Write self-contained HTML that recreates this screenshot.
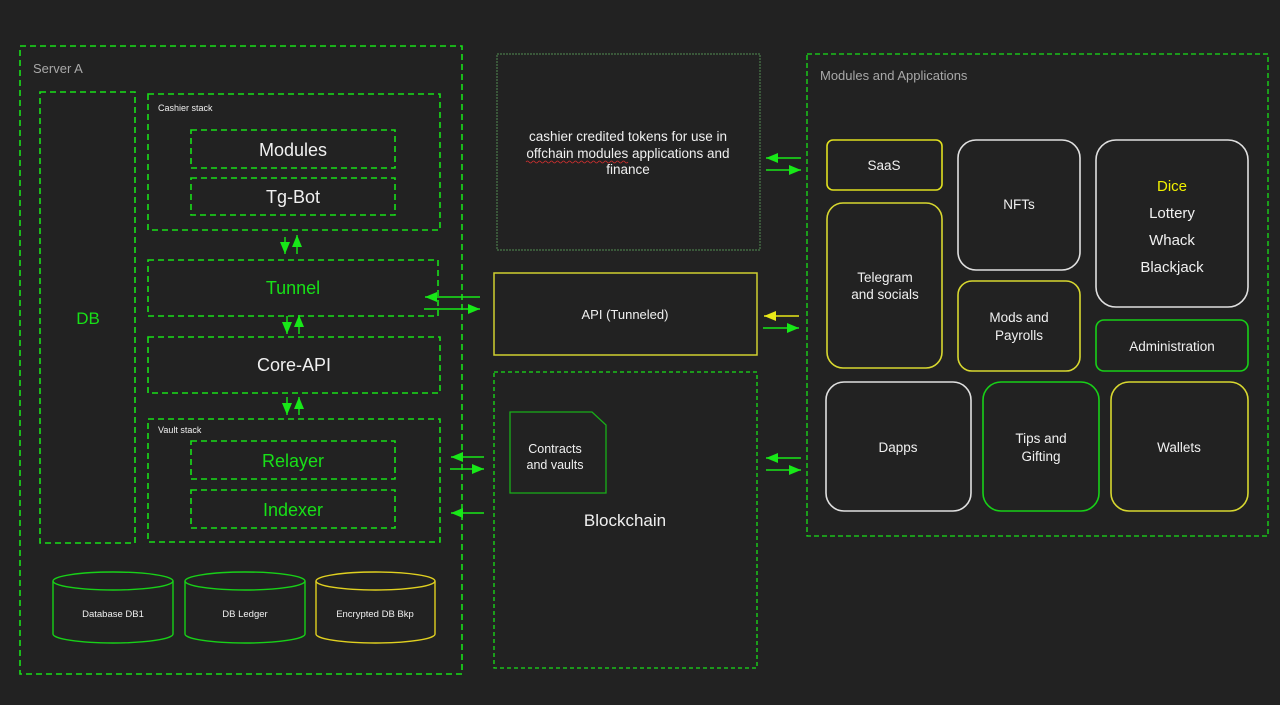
<!DOCTYPE html>
<html><head><meta charset="utf-8"><style>
html,body{margin:0;padding:0;background:#222222;}
svg{display:block;font-family:"Liberation Sans",sans-serif;}
</style></head><body>
<svg width="1280" height="705" viewBox="0 0 1280 705" xmlns="http://www.w3.org/2000/svg">
<defs>
<marker id="ag" viewBox="0 0 12 10" refX="12" refY="5" markerWidth="12" markerHeight="10" orient="auto" markerUnits="userSpaceOnUse"><path d="M0,0 L12,5 L0,10 z" fill="#18e818"/></marker>
<marker id="ay" viewBox="0 0 12 10" refX="12" refY="5" markerWidth="12" markerHeight="10" orient="auto" markerUnits="userSpaceOnUse"><path d="M0,0 L12,5 L0,10 z" fill="#e8e818"/></marker>
</defs>
<rect width="1280" height="705" fill="#222222"/>
<g fill="none" stroke="#18e018" stroke-width="1.6" stroke-dasharray="6,4">
<rect x="20" y="46" width="442" height="628"/>
<rect x="40" y="92" width="95" height="451"/>
<rect x="148" y="94" width="292" height="136"/>
<rect x="191" y="130" width="204" height="38"/>
<rect x="191" y="178" width="204" height="37"/>
<rect x="148" y="260" width="290" height="56"/>
<rect x="148" y="337" width="292" height="56"/>
<rect x="148" y="419" width="292" height="123"/>
<rect x="191" y="441" width="204" height="38"/>
<rect x="191" y="490" width="204" height="38"/>
<rect x="494" y="372" width="263" height="296" stroke-width="1.3" stroke-dasharray="4,3"/>
<rect x="807" y="54" width="461" height="482" stroke-width="1.3" stroke-dasharray="5,3"/>
</g>
<rect x="497" y="54" width="263" height="196" fill="none" stroke="#4a7a4a" stroke-width="1.2" stroke-dasharray="2,1"/>
<rect x="494" y="273" width="263" height="82" fill="none" stroke="#d0d030" stroke-width="1.5"/>
<path d="M510,412 L592,412 L606,425 L606,493 L510,493 Z" fill="none" stroke="#18b018" stroke-width="1.3"/>
<g fill="none" stroke-width="1.4">
<g stroke="#18d018">
<path d="M53,581 L53,634 A60,9 0 0 0 173,634 L173,581"/><ellipse cx="113" cy="581" rx="60" ry="9"/>
<path d="M185,581 L185,634 A60,9 0 0 0 305,634 L305,581"/><ellipse cx="245" cy="581" rx="60" ry="9"/>
</g>
<g stroke="#e0d020">
<path d="M316,581 L316,634 A59.5,9 0 0 0 435,634 L435,581"/><ellipse cx="375.5" cy="581" rx="59.5" ry="9"/>
</g>
</g>
<g fill="none" stroke-width="1.6">
<rect x="827" y="140" width="115" height="50" rx="6" stroke="#e0e020"/>
<rect x="958" y="140" width="122" height="130" rx="18" stroke="#e0e0e0"/>
<rect x="1096" y="140" width="152" height="167" rx="20" stroke="#e0e0e0"/>
<rect x="827" y="203" width="115" height="165" rx="16" stroke="#d8d830"/>
<rect x="958" y="281" width="122" height="90" rx="14" stroke="#d8d830"/>
<rect x="1096" y="320" width="152" height="51" rx="8" stroke="#18d018"/>
<rect x="826" y="382" width="145" height="129" rx="18" stroke="#e0e0e0"/>
<rect x="983" y="382" width="116" height="129" rx="18" stroke="#18d018"/>
<rect x="1111" y="382" width="137" height="129" rx="18" stroke="#d8d830"/>
</g>
<g stroke="#18e818" stroke-width="1.4" fill="none">
<line x1="285" y1="237" x2="285" y2="254" marker-end="url(#ag)"/>
<line x1="297" y1="254" x2="297" y2="235" marker-end="url(#ag)"/>
<line x1="287" y1="316" x2="287" y2="334" marker-end="url(#ag)"/>
<line x1="299" y1="334" x2="299" y2="315" marker-end="url(#ag)"/>
<line x1="287" y1="397" x2="287" y2="415" marker-end="url(#ag)"/>
<line x1="299" y1="415" x2="299" y2="397" marker-end="url(#ag)"/>
<line x1="480" y1="297" x2="425" y2="297" marker-end="url(#ag)"/>
<line x1="424" y1="309" x2="480" y2="309" marker-end="url(#ag)"/>
<line x1="484" y1="457" x2="451" y2="457" marker-end="url(#ag)"/>
<line x1="450" y1="469" x2="484" y2="469" marker-end="url(#ag)"/>
<line x1="484" y1="513" x2="451" y2="513" marker-end="url(#ag)"/>
<line x1="801" y1="158" x2="766" y2="158" marker-end="url(#ag)"/>
<line x1="766" y1="170" x2="801" y2="170" marker-end="url(#ag)"/>
<line x1="763" y1="328" x2="799" y2="328" marker-end="url(#ag)"/>
<line x1="801" y1="458" x2="766" y2="458" marker-end="url(#ag)"/>
<line x1="766" y1="470" x2="801" y2="470" marker-end="url(#ag)"/>
</g>
<line x1="799" y1="316" x2="764" y2="316" stroke="#e8e818" stroke-width="1.4" marker-end="url(#ay)"/>
<g fill="#f0f0f0" text-anchor="middle">
<text x="33" y="73" text-anchor="start" fill="#a8a8a8" font-size="13">Server A</text>
<text x="158" y="111" text-anchor="start" font-size="9">Cashier stack</text>
<text x="158" y="433" text-anchor="start" font-size="9">Vault stack</text>
<text x="88" y="324" fill="#18e018" font-size="17">DB</text>
<text x="293" y="156" font-size="18">Modules</text>
<text x="293" y="203" font-size="18">Tg-Bot</text>
<text x="293" y="294" fill="#18e018" font-size="18">Tunnel</text>
<text x="294" y="371" font-size="18">Core-API</text>
<text x="293" y="467" fill="#18e018" font-size="18">Relayer</text>
<text x="293" y="516" fill="#18e018" font-size="18">Indexer</text>
<text x="113" y="617" font-size="9.5">Database DB1</text>
<text x="245" y="617" font-size="9.5">DB Ledger</text>
<text x="375" y="617" font-size="9.5">Encrypted DB Bkp</text>
<text x="628" y="141" font-size="13.5">cashier credited tokens for use in</text>
<text x="628" y="158" font-size="13.5">offchain modules applications and</text>
<text x="628" y="174" font-size="13.5">finance</text>
<text x="625" y="319" font-size="13">API (Tunneled)</text>
<text x="555" y="453" font-size="12.5">Contracts</text>
<text x="555" y="469" font-size="12.5">and vaults</text>
<text x="625" y="526" font-size="17">Blockchain</text>
<text x="820" y="80" text-anchor="start" fill="#a8a8a8" font-size="13">Modules and Applications</text>
<text x="884" y="170" font-size="13.5">SaaS</text>
<text x="1019" y="209" font-size="13.5">NFTs</text>
<text x="1172" y="191" fill="#f0f000" font-size="15">Dice</text>
<text x="1172" y="218" font-size="15">Lottery</text>
<text x="1172" y="245" font-size="15">Whack</text>
<text x="1172" y="272" font-size="15">Blackjack</text>
<text x="885" y="282" font-size="13.5">Telegram</text>
<text x="885" y="299" font-size="13.5">and socials</text>
<text x="1019" y="322" font-size="13.5">Mods and</text>
<text x="1019" y="340" font-size="13.5">Payrolls</text>
<text x="1172" y="351" font-size="13.5">Administration</text>
<text x="898" y="452" font-size="13.5">Dapps</text>
<text x="1041" y="443" font-size="13.5">Tips and</text>
<text x="1041" y="461" font-size="13.5">Gifting</text>
<text x="1179" y="452" font-size="13.5">Wallets</text>
</g>
<path d="M526,162 q1.5,-2 3,0 t3,0 t3,0 t3,0 t3,0 t3,0 t3,0 t3,0 t3,0 t3,0 t3,0 t3,0 t3,0 t3,0 t3,0 t3,0 t3,0 t3,0 t3,0 t3,0 t3,0 t3,0 t3,0 t3,0 t3,0 t3,0 t3,0 t3,0 t3,0 t3,0 t3,0 t3,0 t3,0 t3,0" fill="none" stroke="#d03030" stroke-width="0.8"/>
</svg>
</body></html>
